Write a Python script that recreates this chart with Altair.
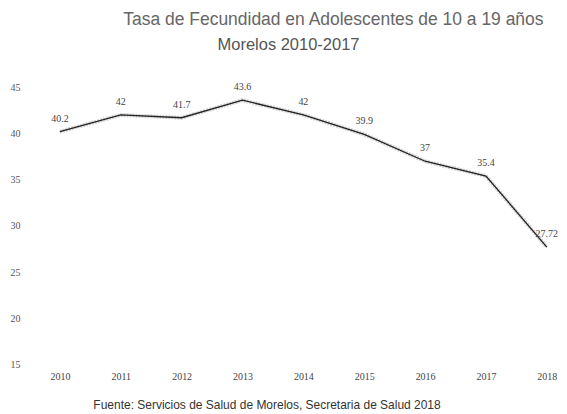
import altair as alt
import pandas as pd

years = [2010, 2011, 2012, 2013, 2014, 2015, 2016, 2017, 2018]
rates = [40.2, 42, 41.7, 43.6, 42, 39.9, 37, 35.4, 27.72]
labels = ["40.2", "42", "41.7", "43.6", "42", "39.9", "37", "35.4", "27.72"]
y_ticks = [15, 20, 25, 30, 35, 40, 45]
title_1 = "Tasa de Fecundidad en Adolescentes de 10 a 19 años"
title_2 = "Morelos 2010-2017"
source = "Fuente: Servicios de Salud de Morelos, Secretaria de Salud 2018"

df = pd.DataFrame({"year": years, "rate": rates, "label": labels})

x = alt.X("year:Q",
          scale=alt.Scale(domain=[2009.59, 2018.2], nice=False, zero=False),
          axis=alt.Axis(values=years, format="d", title=source, titleX=232, titleY=40,
                        titleBaseline="middle",
                        titleFont="Liberation Sans", titleFontSize=12, titleFontWeight="normal",
                        titleColor="#333", labelFont="Liberation Serif", labelFontSize=10,
                        labelColor="#444", ticks=False, domain=False, grid=False, labelPadding=7))
y = alt.Y("rate:Q",
          scale=alt.Scale(domain=[15, 45], nice=False, zero=False),
          axis=alt.Axis(values=y_ticks, title=None, labelFont="Liberation Serif", labelFontSize=10,
                        labelColor="#555", ticks=False, domain=False, grid=False, labelPadding=15))

base = alt.Chart(df)
halo = base.mark_line(color="#999", strokeWidth=4, opacity=0.45, strokeDash=[2, 1]).encode(x=x, y=y)
line = base.mark_line(color="#222", strokeWidth=1.3).encode(x=x, y=y)
text = base.mark_text(dy=-13, font="Liberation Serif", fontSize=10, color="#444").encode(
    x=x, y=y, text="label:N")

t1 = alt.Chart(pd.DataFrame({"t": [title_1]})).mark_text(
    font="Liberation Sans", fontSize=17.5, color="#666", align="center", baseline="middle"
).encode(x=alt.value(299), y=alt.value(-67), text="t:N")
t2 = alt.Chart(pd.DataFrame({"t": [title_2]})).mark_text(
    font="Liberation Sans", fontSize=16.5, color="#555", align="center", baseline="middle"
).encode(x=alt.value(254), y=alt.value(-42), text="t:N")

chart = alt.layer(halo, line, text, t1, t2).properties(
    width=525, height=278,
    autosize=alt.AutoSizeParams(type="none"),
    padding={"left": 27, "top": 79, "right": 0, "bottom": 48},
).configure_view(stroke=None)

chart.save("out.html", embed_options={"renderer": "svg", "actions": False})
